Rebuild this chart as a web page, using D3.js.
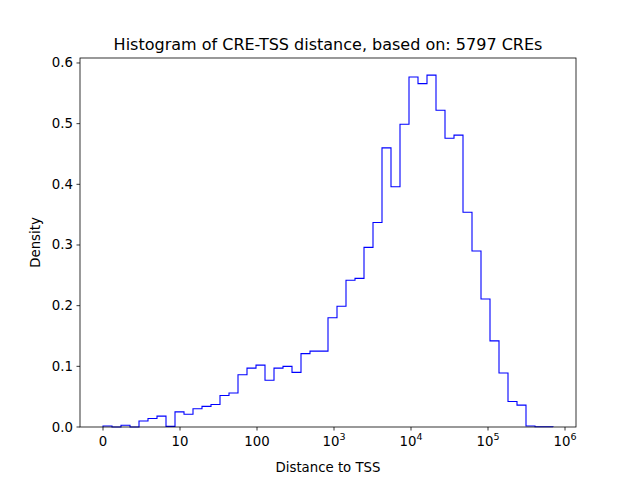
<!DOCTYPE html><html><head><meta charset="utf-8"><script src="https://cdn.jsdelivr.net/npm/d3@7"></script>
<style>body{margin:0;background:#fff}text{font-family:"DejaVu Sans";}</style></head><body><svg id="c" width="640" height="480"></svg><script>
const binStart=0, binWidth=0.117, // in log10 units
density=[0.0016,0,0.003,0,0.01,0.014,0.018,0.001,0.025,0.021,0.03,0.034,0.037,0.052,0.056,0.086,0.097,0.102,0.077,0.097,0.1,0.09,0.121,0.125,0.125,0.18,0.199,0.242,0.245,0.296,0.337,0.46,0.396,0.499,0.577,0.566,0.58,0.522,0.476,0.481,0.354,0.29,0.211,0.142,0.089,0.042,0.036,0.0016,0.0005,0.0005];
const xTicks=[0,1,2,3,4,5,6], xTickLabels=["0","10","100","10^3","10^4","10^5","10^6"];
const yTicks=[0,0.1,0.2,0.3,0.4,0.5,0.6];
const svg=d3.select("#c");
const L=80,R=576,T=58,B=427;
const x=d3.scaleLinear().domain([-23/77,473/77]).range([L,R]);
const y=d3.scaleLinear().domain([0,0.6082]).range([B,T]);
const bw=9/77;
let pts=[[x(0),y(0)]];
density.forEach((d,i)=>{pts.push([x(i*bw),y(d)]);pts.push([x((i+1)*bw),y(d)]);});
pts.push([x(density.length*bw),y(0)]);
svg.append("path").attr("d",d3.line()(pts)).attr("fill","none").attr("stroke","blue").attr("stroke-width",1.1);
svg.append("rect").attr("x",L).attr("y",T).attr("width",R-L).attr("height",B-T).attr("fill","none").attr("stroke","black").attr("stroke-width",0.8);
const gx=svg.append("g");
xTicks.forEach((t,i)=>{const px=x(t);gx.append("line").attr("x1",px).attr("x2",px).attr("y1",B).attr("y2",B+3.5).attr("stroke","black").attr("stroke-width",0.8);
 const lab=xTickLabels[i];const tx=gx.append("text").attr("x",px).attr("y",B+19).attr("text-anchor","middle").attr("font-size",13.3);
 if(lab.includes("^")){const [b,e]=lab.split("^");tx.append("tspan").text(b);tx.append("tspan").attr("dy",-6).attr("font-size",9.5).text(e);}else tx.text(lab);});
yTicks.forEach(t=>{const py=y(t);svg.append("line").attr("x1",L-3.5).attr("x2",L).attr("y1",py).attr("y2",py).attr("stroke","black").attr("stroke-width",0.8);
 svg.append("text").attr("x",L-7).attr("y",py+4.5).attr("text-anchor","end").attr("font-size",13.3).text(t.toFixed(1));});
svg.append("text").attr("x",328).attr("y",472).attr("text-anchor","middle").attr("font-size",13.3).text("Distance to TSS");
svg.append("text").attr("transform","translate(40,242.5) rotate(-90)").attr("text-anchor","middle").attr("font-size",13.3).text("Density");
svg.append("text").attr("x",328).attr("y",50).attr("text-anchor","middle").attr("font-size",16).text("Histogram of CRE-TSS distance, based on: 5797 CREs");
</script></body></html>
